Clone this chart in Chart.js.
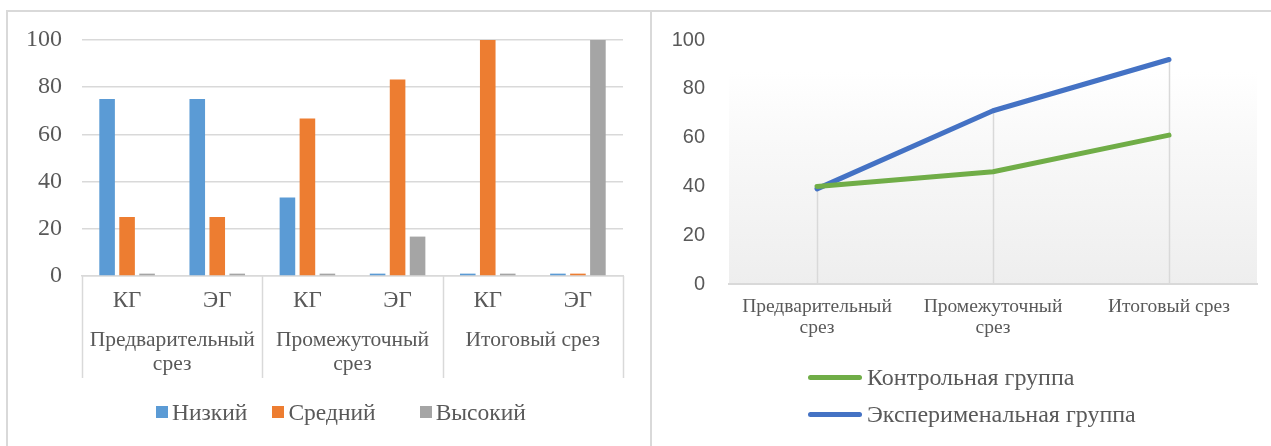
<!DOCTYPE html>
<html>
<head>
<meta charset="utf-8">
<script src="https://cdn.jsdelivr.net/npm/chart.js@4.4.1/dist/chart.umd.min.js"></script>
<style>
  html, body { margin: 0; padding: 0; background: #fff; }
  body { width: 1271px; height: 446px; position: relative; overflow: hidden; }
  .panel { position: absolute; top: 10px; height: 436px; border-top: 2px solid #d9d9d9; border-left: 2px solid #d9d9d9; box-sizing: border-box; }
  #leftPanel { left: 6px; width: 645px; }
  #rightPanel { left: 650px; width: 621px; }
  .panel canvas { position: absolute; left: 0; top: 0; }
  .legend { position: absolute; font-family: "Liberation Serif", serif; color: #595959; }
  #barLegend { left: 148px; top: 386px; font-size: 23.5px; display: flex; }
  #barLegend div { display: flex; align-items: center; height: 28px; margin-right: 25px; }
  #barLegend div:nth-child(2) { margin-right: 44px; }
  #barLegend span.sw { display: inline-block; width: 12px; height: 12px; margin-right: 4px; }
  #lineLegend { left: 156px; top: 347px; font-size: 24px; }
  #lineLegend div { height: 37px; display: flex; align-items: center; }
  #lineLegend span.sw { display: inline-block; width: 54px; height: 5px; border-radius: 2.5px; margin-right: 5px; }
</style>
</head>
<body>
<div class="panel" id="leftPanel"><canvas id="barChart" width="643" height="434"></canvas><div class="legend" id="barLegend"></div></div>
<div class="panel" id="rightPanel"><canvas id="lineChart" width="619" height="434"></canvas><div class="legend" id="lineLegend"></div></div>
<script>
const subLabels = ["КГ", "ЭГ", "КГ", "ЭГ", "КГ", "ЭГ"];
const stageLabels = [["Предварительный", "срез"], ["Промежуточный", "срез"], "Итоговый срез"];
const levelNames = ["Низкий", "Средний", "Высокий"];
const lowValues = [75, 75, 33.3, 1, 1, 1];
const midValues = [25, 25, 66.7, 83.3, 100, 1];
const highValues = [1, 1, 1, 16.7, 1, 100];

const groupNames = ["Контрольная группа", "Эксперименальная группа"];
const controlValues = [40, 46, 61];
const experimentValues = [39, 71, 92];

const yTicks = [0, 20, 40, 60, 80, 100];

const textColor = "#595959";
const gridColor = "#d9d9d9";
const serif = "Liberation Serif, serif";

// vertical separators of the two-level category axis
const separators = {
  id: "separators",
  afterDraw(chart) {
    const x = chart.scales.x;
    const x2 = chart.scales.x2;
    const step = x.getPixelForValue(1) - x.getPixelForValue(0);
    const c = chart.ctx;
    c.save();
    c.strokeStyle = gridColor;
    c.lineWidth = 1.5;
    for (let i = 0; i <= subLabels.length; i += 2) {
      const px = Math.round(x.getPixelForValue(i) - step / 2) + 0.5;
      c.beginPath();
      c.moveTo(px, chart.chartArea.bottom);
      c.lineTo(px, x2.bottom);
      c.stroke();
    }
    c.restore();
  },
};

const barChart = new Chart(document.getElementById("barChart"), {
  type: "bar",
  data: {
    labels: subLabels,
    datasets: [
      { label: levelNames[0], data: lowValues, backgroundColor: "#5b9bd5" },
      { label: levelNames[1], data: midValues, backgroundColor: "#ed7d31" },
      { label: levelNames[2], data: highValues, backgroundColor: "#a5a5a5" },
    ],
  },
  options: {
    responsive: false,
    animation: false,
    categoryPercentage: 0.665,
    barPercentage: 0.78,
    layout: { padding: { top: 28, right: 28, left: 0, bottom: 68 } },
    scales: {
      x: {
        grid: { display: false },
        border: { color: gridColor, width: 1.5 },
        ticks: { color: textColor, font: { family: serif, size: 23 }, padding: 3 },
        afterFit: (scale) => { scale.height = 41; },
      },
      x2: {
        type: "category",
        position: "bottom",
        labels: stageLabels,
        offset: true,
        grid: { display: false },
        border: { display: false },
        ticks: { color: textColor, font: { family: serif, size: 21.5, lineHeight: 1.1 }, padding: 4, maxRotation: 0, autoSkip: false },
        afterFit: (scale) => { scale.height = 61; },
      },
      y: {
        min: 0,
        max: 100,
        afterBuildTicks: (scale) => { scale.ticks = yTicks.map((v) => ({ value: v })); },
        grid: { color: gridColor, lineWidth: 1.5, drawTicks: false },
        border: { display: false },
        ticks: { color: textColor, font: { family: serif, size: 24 }, padding: 20 },
        afterFit: (scale) => { scale.width = 74; scale.paddingTop = 0; },
      },
    },
    plugins: {
      legend: { display: false },
      tooltip: { enabled: false },
    },
  },
  plugins: [separators],
});

// plot area gradient
const plotBackground = {
  id: "plotBackground",
  beforeDraw(chart) {
    const { ctx: c, chartArea: a } = chart;
    const top = a.top + 32;
    const g = c.createLinearGradient(0, top, 0, a.bottom);
    g.addColorStop(0, "#ffffff");
    g.addColorStop(0.25, "#fafafa");
    g.addColorStop(1, "#eeeeee");
    c.save();
    c.fillStyle = g;
    c.fillRect(a.left, top, a.right - a.left, a.bottom - top);
    c.restore();
  },
};

// drop lines from the highest point to the axis
const dropLines = {
  id: "dropLines",
  beforeDatasetsDraw(chart) {
    const x = chart.scales.x;
    const y = chart.scales.y;
    const c = chart.ctx;
    c.save();
    c.strokeStyle = "#d9d9d9";
    c.lineWidth = 1.5;
    controlValues.forEach((v, i) => {
      const top = Math.max(v, experimentValues[i]);
      const px = Math.round(x.getPixelForValue(i)) + 0.5;
      c.beginPath();
      c.moveTo(px, y.getPixelForValue(top));
      c.lineTo(px, y.getPixelForValue(0));
      c.stroke();
    });
    c.restore();
  },
};

const lineChart = new Chart(document.getElementById("lineChart"), {
  type: "line",
  data: {
    labels: stageLabels,
    datasets: [
      { label: groupNames[0], data: controlValues, borderColor: "#70ad47", backgroundColor: "#70ad47", borderWidth: 5, pointRadius: 0, borderCapStyle: "round", borderJoinStyle: "round" },
      { label: groupNames[1], data: experimentValues, borderColor: "#4472c4", backgroundColor: "#4472c4", borderWidth: 5, pointRadius: 0, borderCapStyle: "round", borderJoinStyle: "round" },
    ],
  },
  options: {
    responsive: false,
    animation: false,
    layout: { padding: { top: 20, right: 14, left: 0, bottom: 102 } },
    scales: {
      x: {
        offset: true,
        grid: { display: false },
        border: { color: gridColor, width: 2 },
        ticks: { color: textColor, font: { family: serif, size: 19.5, lineHeight: 1.1 }, padding: 4, maxRotation: 0, autoSkip: false },
        afterFit: (scale) => { scale.height = 60; },
      },
      y: {
        min: 0,
        max: 100,
        afterBuildTicks: (scale) => { scale.ticks = yTicks.map((v) => ({ value: v })); },
        grid: { display: false },
        border: { display: false },
        ticks: { color: textColor, font: { family: "Liberation Sans, sans-serif", size: 20 }, padding: 16 },
        afterFit: (scale) => { scale.width = 77; },
      },
    },
    plugins: {
      legend: { display: false },
      tooltip: { enabled: false },
    },
  },
  plugins: [plotBackground, dropLines],
});

const swatchLegend = (chart, box, key) => {
  box.innerHTML = chart.data.datasets
    .map((ds) => `<div><span class="sw" style="background:${ds[key]}"></span>${ds.label}</div>`)
    .join("");
};
swatchLegend(barChart, document.getElementById("barLegend"), "backgroundColor");
swatchLegend(lineChart, document.getElementById("lineLegend"), "borderColor");
</script>
</body>
</html>
